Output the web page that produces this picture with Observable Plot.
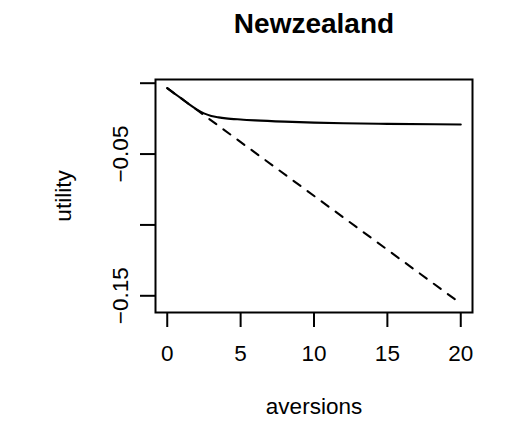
<!DOCTYPE html>
<html>
<head>
<meta charset="utf-8">
<script src="https://cdn.jsdelivr.net/npm/d3@7"></script>
<script src="https://cdn.jsdelivr.net/npm/@observablehq/plot@0.6"></script>
<style>
  html, body { margin: 0; padding: 0; background: #fff; }
  #chart { width: 510px; height: 423px; }
</style>
</head>
<body>
<div id="chart"></div>
<script>
// Utility as a function of aversions: the concave curve and its linear counterpart
const aversions = [0, 0.5, 1, 1.5, 2, 2.5, 3, 3.5, 4, 5, 6, 8, 10, 12, 15, 20];
const utility = [-0.0035, -0.0073, -0.0111, -0.0149, -0.0184, -0.0213, -0.0231, -0.0241,
                 -0.0248, -0.0256, -0.0262, -0.0271, -0.0278, -0.0283, -0.0287, -0.0291];

const linearAversions = [0, 20];
const linearUtility = [-0.0035, -0.1555];

const xTicks = [0, 5, 10, 15, 20];
const yTicks = [0, -0.05, -0.10, -0.15];
const yTickLabels = ["", "\u22120.05", "", "\u22120.15"];

const titleText = ["Newzealand"];
const xLabel = ["aversions"];
const yLabel = ["utility"];

const curve = aversions.map((a, i) => ({a, u: utility[i]}));
const linear = linearAversions.map((a, i) => ({a, u: linearUtility[i]}));
const yLabelRows = yTicks.map((t, i) => ({t, label: yTickLabels[i]})).filter(d => d.label);

const chart = Plot.plot({
  width: 510,
  height: 423,
  marginLeft: 155,
  marginRight: 38,
  marginTop: 79,
  marginBottom: 111,
  x: {domain: [-0.8, 20.8]},
  y: {domain: [-0.16179, 0.00261]},
  style: {
    fontFamily: "'Liberation Sans', Arial, Helvetica, sans-serif",
    fontSize: "22.5px",
    color: "black",
    background: "white"
  },
  marks: [
    Plot.frame({stroke: "black", strokeWidth: 2}),
    Plot.line(curve, {x: "a", y: "u", curve: "monotone-x", stroke: "black", strokeWidth: 2.1}),
    Plot.line(linear, {x: "a", y: "u", stroke: "black", strokeWidth: 2.1,
                       strokeDasharray: "8.7,8.7"}),
    Plot.axisX(xTicks, {tickSize: 15, tickPadding: 18, strokeWidth: 2, label: null,
                        tickFormat: d => String(d)}),
    Plot.axisY(yTicks, {tickSize: 15, strokeWidth: 2, label: null, tickFormat: () => ""}),
    // vertical tick labels, reading bottom to top
    Plot.text(yLabelRows, {y: "t", text: "label", frameAnchor: "left", dx: -28,
                           rotate: -90, textAnchor: "middle", lineAnchor: "bottom"}),
    Plot.text(titleText, {text: d => d, frameAnchor: "top", dy: -47, lineAnchor: "bottom",
                          textAnchor: "middle", fontWeight: "bold", fontSize: 28}),
    Plot.text(xLabel, {text: d => d, frameAnchor: "bottom", dy: 101, lineAnchor: "bottom",
                       textAnchor: "middle"}),
    Plot.text(yLabel, {text: d => d, frameAnchor: "left", dx: -85, rotate: -90,
                       textAnchor: "middle", lineAnchor: "bottom"})
  ]
});

document.getElementById("chart").appendChild(chart);
</script>
</body>
</html>
